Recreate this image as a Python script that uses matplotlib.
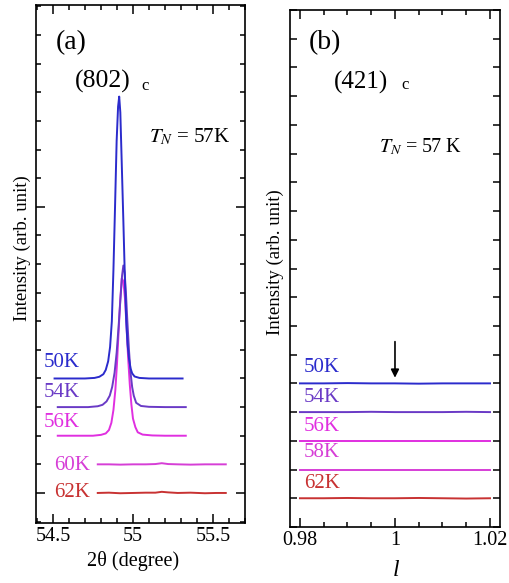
import matplotlib
matplotlib.use("Agg")
import matplotlib.pyplot as plt
from matplotlib.ticker import MultipleLocator, FixedLocator

plt.rcParams['font.family'] = ['Liberation Serif', 'DejaVu Serif']
plt.rcParams['mathtext.fontset'] = 'stix'

# ---- panel (a): (802)c peak, 2theta scans, offset by temperature ----
x50 = [54.51, 54.70, 54.76, 54.79, 54.815, 54.83, 54.845, 54.857, 54.868, 54.878, 54.888, 54.898,
       54.907, 54.914, 54.921, 54.930, 54.940, 54.950, 54.958, 54.966, 54.975, 54.985, 54.995,
       55.01, 55.04, 55.10, 55.20, 55.31]
y50 = [4.0, 4.0, 4.02, 4.06, 4.15, 4.3, 4.6, 5.1, 6.0, 7.8, 10.0, 12.3,
       13.5, 13.85, 13.3, 11.5, 9.5, 7.4, 6.0, 5.2, 4.7, 4.35, 4.18,
       4.07, 4.02, 4.0, 4.0, 4.0]
x54 = [54.53, 54.72, 54.78, 54.81, 54.835, 54.855, 54.87, 54.885, 54.898, 54.91, 54.922, 54.932,
       54.940, 54.948, 54.956, 54.965, 54.975, 54.985, 54.995, 55.005, 55.02, 55.05, 55.10, 55.20, 55.33]
y54 = [3.0, 3.0, 3.03, 3.08, 3.2, 3.4, 3.7, 4.2, 4.9, 5.8, 6.8, 7.6,
       7.95, 7.7, 7.0, 6.0, 5.0, 4.2, 3.7, 3.4, 3.15, 3.04, 3.01, 3.0, 3.0]
x56 = [54.53, 54.75, 54.80, 54.83, 54.85, 54.865, 54.878, 54.89, 54.90, 54.91, 54.92, 54.93,
       54.94, 54.95, 54.96, 54.97, 54.98, 54.99, 55.00, 55.015, 55.03, 55.06, 55.12, 55.20, 55.33]
y56 = [2.0, 2.0, 2.03, 2.08, 2.2, 2.45, 2.9, 3.6, 4.5, 5.6, 6.7, 7.5,
       7.4, 6.8, 5.8, 4.7, 3.8, 3.1, 2.6, 2.3, 2.12, 2.04, 2.01, 2.0, 2.0]
x60 = [54.78, 54.85, 54.92, 55.0, 55.08, 55.14, 55.18, 55.22, 55.28, 55.36, 55.45, 55.52, 55.58]
y60 = [1.0, 1.0, 0.99, 1.0, 1.0, 1.01, 1.04, 1.01, 1.0, 0.99, 1.0, 1.0, 1.0]
x62 = [54.78, 54.85, 54.92, 55.0, 55.08, 55.14, 55.18, 55.22, 55.28, 55.36, 55.45, 55.52, 55.58]
y62 = [0.0, 0.01, -0.01, 0.0, 0.01, 0.01, 0.04, 0.02, 0.0, 0.01, -0.01, 0.0, 0.0]

# ---- panel (b): (421)c, l scans ----
lb = [0.98, 0.985, 0.99, 0.995, 1.0, 1.005, 1.01, 1.015, 1.02]
b50 = [5.0, 5.0, 5.01, 5.0, 5.0, 4.99, 5.0, 5.0, 5.0]
b54 = [4.0, 4.0, 4.0, 4.01, 4.0, 4.0, 4.0, 4.01, 4.0]
b56 = [3.0, 3.0, 3.0, 3.0, 3.0, 3.0, 3.0, 3.0, 3.0]
b58 = [2.0, 2.0, 2.0, 2.0, 2.0, 2.0, 2.0, 2.0, 2.0]
b62 = [1.0, 1.0, 1.01, 1.0, 1.0, 1.01, 1.0, 0.99, 1.0]

c50 = '#2b2bcc'
c54 = '#6a3ac6'
c56 = '#e02fe0'
c60 = '#d63ed6'
c62 = '#c83232'

fig = plt.figure(figsize=(5.09, 5.83), dpi=100)
axa = fig.add_axes([0.0707, 0.1029, 0.4106, 0.8885])
axb = fig.add_axes([0.5697, 0.0961, 0.4126, 0.8867])

for ax in (axa, axb):
    for s in ax.spines.values():
        s.set_linewidth(1.2)
    ax.tick_params(which='both', direction='in', top=True, right=True, width=1.1, labelsize=14.5)
    ax.tick_params(which='major', length=6.5)
    ax.tick_params(which='minor', length=3.5)
    ax.tick_params(axis='x', pad=3)
    ax.set_yticklabels([])

# panel a
axa.plot(x62, y62, color=c62, lw=1.4)
axa.plot(x60, y60, color=c60, lw=1.4)
axa.plot(x56, y56, color=c56, lw=1.4)
axa.plot(x54, y54, color=c54, lw=1.4)
axa.plot(x50, y50, color=c50, lw=1.4)
axa.set_xlim(54.394, 55.7)
axa.set_ylim(-1.05, 17.05)
axa.xaxis.set_major_locator(FixedLocator([54.5, 55.0, 55.5]))
axa.xaxis.set_minor_locator(MultipleLocator(0.1))
axa.set_xticklabels(['54.5', '55', '55.5'])
axa.yaxis.set_major_locator(FixedLocator([0, 10]))
axa.yaxis.set_minor_locator(MultipleLocator(1))

axa.text(0.168, 0.928, '(a)', transform=axa.transAxes, fontsize=20, ha='center', va='center')
axa.text(0.32, 0.853, '(802)', transform=axa.transAxes, fontsize=18.5, ha='center', va='center')
axa.text(0.52, 0.843, 'c', transform=axa.transAxes, fontsize=12, ha='center', va='center')
axa.text(0.735, 0.745, r'$T_N$ = 57K', transform=axa.transAxes, fontsize=15, ha='center', va='center')
axa.text(54.556, 4.55, '50K', color=c50, fontsize=15, ha='center', va='center')
axa.text(54.556, 3.5, '54K', color=c54, fontsize=15, ha='center', va='center')
axa.text(54.556, 2.45, '56K', color=c56, fontsize=15, ha='center', va='center')
axa.text(54.62, 0.97, '60K', color=c60, fontsize=15, ha='center', va='center')
axa.text(54.62, 0.0, '62K', color=c62, fontsize=15, ha='center', va='center')

# panel b
axb.plot(lb, b62, color=c62, lw=1.4)
axb.plot(lb, b58, color=c60, lw=1.4)
axb.plot(lb, b56, color=c56, lw=1.4)
axb.plot(lb, b54, color=c54, lw=1.4)
axb.plot(lb, b50, color=c50, lw=1.4)
axb.set_xlim(0.9779, 1.0221)
axb.set_ylim(0, 18)
axb.xaxis.set_major_locator(FixedLocator([0.98, 1.0, 1.02]))
axb.xaxis.set_minor_locator(MultipleLocator(0.005))
axb.set_xticklabels(['0.98', '1', '1.02'])
axb.yaxis.set_major_locator(MultipleLocator(1))
axb.tick_params(axis='y', which='major', length=5)
axb.annotate('', xy=(1.0, 5.1), xytext=(1.0, 6.55),
             arrowprops=dict(arrowstyle='-|>', color='black', lw=1.2, mutation_scale=12))

axb.text(0.168, 0.937, '(b)', transform=axb.transAxes, fontsize=20, ha='center', va='center')
axb.text(0.34, 0.86, '(421)', transform=axb.transAxes, fontsize=18, ha='center', va='center')
axb.text(0.55, 0.855, 'c', transform=axb.transAxes, fontsize=12, ha='center', va='center')
axb.text(0.62, 0.735, r'$T_N$ = 57 K', transform=axb.transAxes, fontsize=14.5, ha='center', va='center')
axb.text(0.9846, 5.55, '50K', color=c50, fontsize=15, ha='center', va='center')
axb.text(0.9846, 4.5, '54K', color=c54, fontsize=15, ha='center', va='center')
axb.text(0.9846, 3.5, '56K', color=c56, fontsize=15, ha='center', va='center')
axb.text(0.9846, 2.6, '58K', color=c60, fontsize=15, ha='center', va='center')
axb.text(0.9846, 1.5, '62K', color=c62, fontsize=15, ha='center', va='center')

fig.text(22 / 509, 1 - 248 / 583, 'Intensity (arb. unit)', rotation=90, fontsize=13.5, ha='center', va='center')
fig.text(275 / 509, 1 - 262 / 583, 'Intensity (arb. unit)', rotation=90, fontsize=13.5, ha='center', va='center')
fig.text(133 / 509, 1 - 561 / 583, '2θ (degree)', fontsize=14.5, ha='center', va='center')
fig.text(396 / 509, 1 - 571 / 583, 'l', fontsize=17, style='italic', ha='center', va='center')

fig.savefig('out.png', dpi=100)
